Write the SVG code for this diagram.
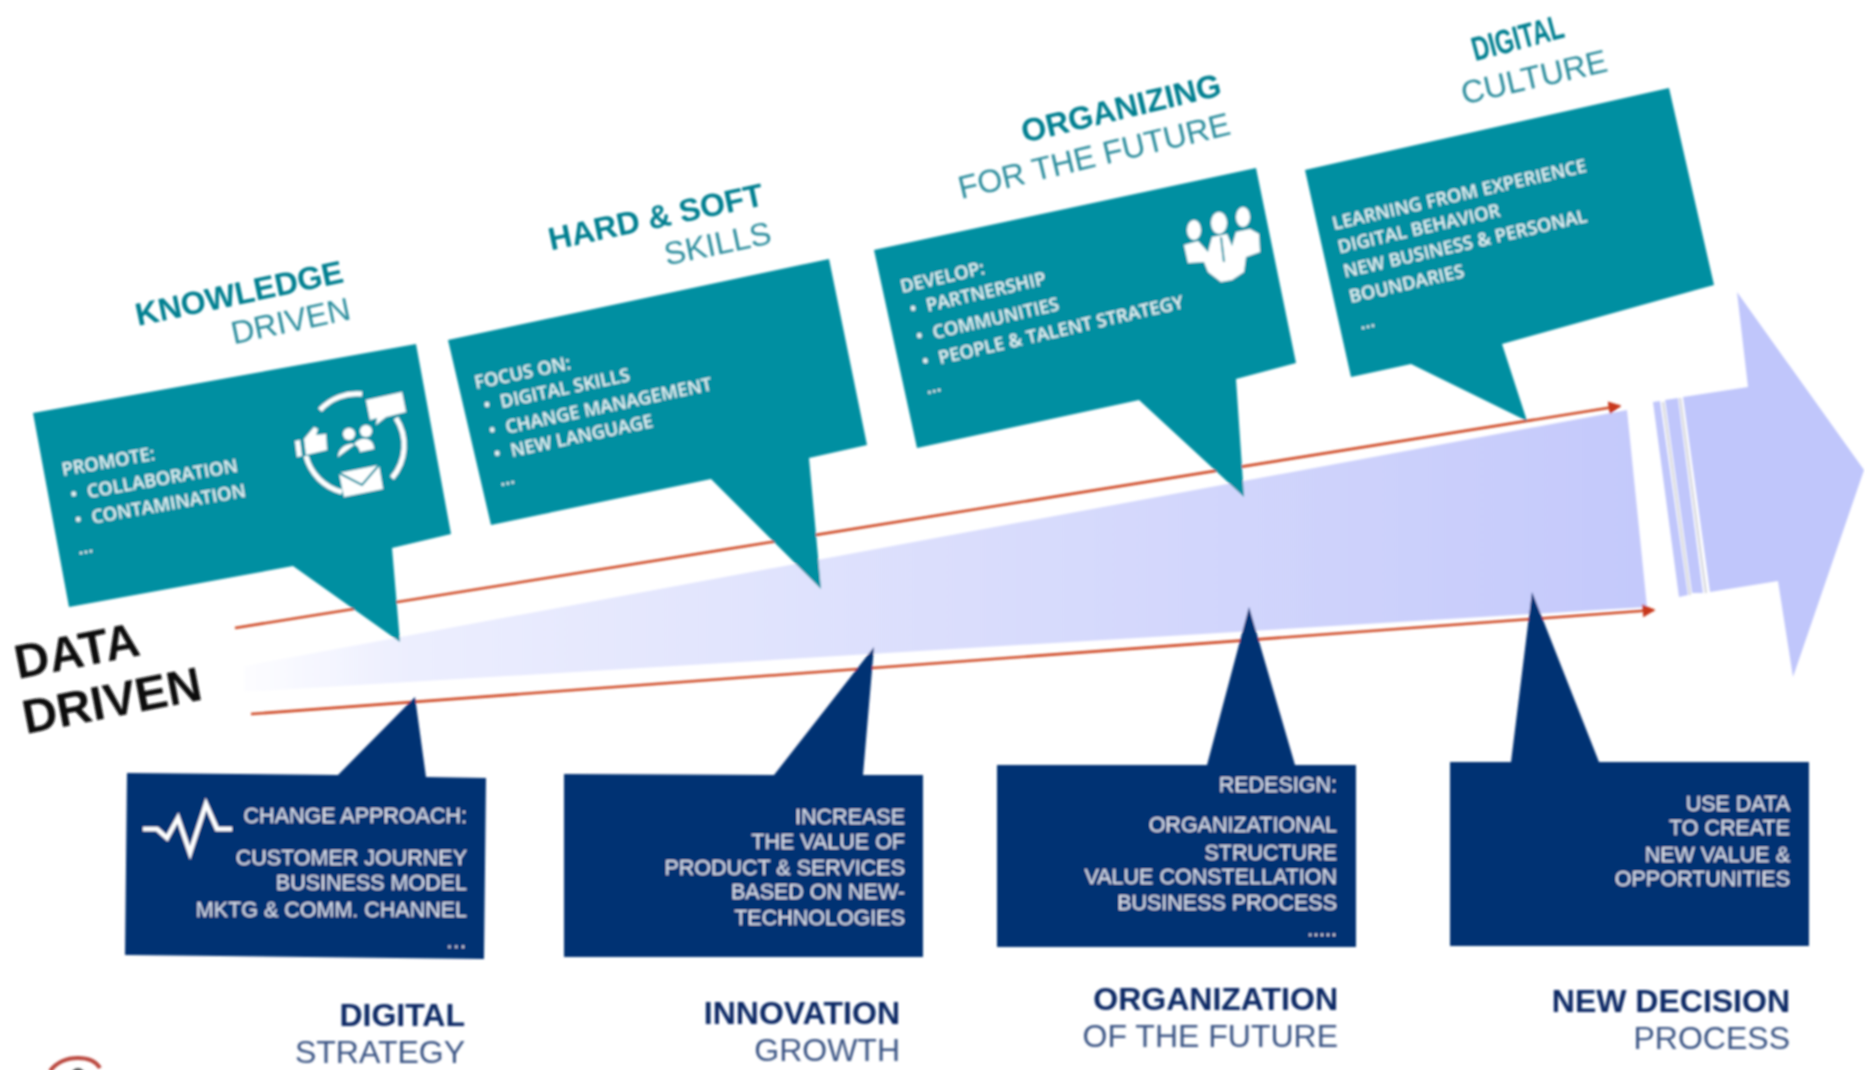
<svg xmlns="http://www.w3.org/2000/svg" width="1865" height="1070" viewBox="0 0 1865 1070">
<defs>
<linearGradient id="wedge" gradientUnits="userSpaceOnUse" x1="244" y1="0" x2="1640" y2="0"><stop offset="0" stop-color="#fdfdff"/><stop offset="0.12" stop-color="#eceefe"/><stop offset="1" stop-color="#c4c9fb"/></linearGradient>
<marker id="ah" markerWidth="5" markerHeight="5" refX="4.4" refY="2.5" orient="auto"><path d="M0 0L5 2.5L0 5Z" fill="#c8391d"/></marker>
<filter id="soft" x="-2%" y="-2%" width="104%" height="104%"><feGaussianBlur stdDeviation="0.8"/></filter>
</defs>
<style>
text{font-family:"Liberation Sans",Arial,sans-serif}
.teal{fill:#008fa1}.navy{fill:#003073}
.tb{font-weight:700;font-size:32px;fill:#007f90;text-anchor:end}
.tr{font-size:32px;fill:#2a8c9c;text-anchor:end}
.nb{font-weight:700;font-size:32px;fill:#0c2a66;text-anchor:end}
.nr{font-size:32px;fill:#3b5484;text-anchor:end}
.w{font-family:"Open Sans","Liberation Sans",sans-serif;font-size:18.3px;font-weight:600;fill:#e6f3f5}
.bt{font-size:21.5px;fill:#dfe4ee;text-anchor:end}
.dd{font-weight:700;font-size:48px;fill:#111}
.ic{fill:#fff}.il{fill:none;stroke:#fff}
.c{fill:none;stroke:#cf4a25;stroke-width:2.6;marker-end:url(#ah)}
.ar{fill:#c0c6fb}
</style>
<g filter="url(#soft)">
<g id="arrow-body">
<polygon points="244,666 1627,410 1647,607 244,692" fill="url(#wedge)"/>
<path d="M1663 402L1690 595M1680 398L1706 593" stroke="#d2d3dc" stroke-width="2" fill="none"/>
<polygon class="ar" points="1653,402 1660,401 1688,595 1679,597"/>
<polygon class="ar" points="1665,400 1678,398 1703,593 1692,593"/>
<polygon class="ar" points="1683,397 1748,387 1737,292 1864,470 1793,677 1778,581 1710,592"/>
</g>
<g id="connectors">
<line class="c" x1="235" y1="628" x2="1620" y2="406"/>
<line class="c" x1="251" y1="714" x2="1654" y2="610"/>
</g>
<g id="node-knowledge">
<polygon class="teal" points="33,413 416,344 451,534 392,548 400,642 293,566 69,607"/>
<text class="tb" transform="translate(345,282) rotate(-12)">KNOWLEDGE</text>
<text class="tr" transform="translate(352,319) rotate(-12)">DRIVEN</text>
<g transform="translate(63,476) rotate(-10)"><text class="w">PROMOTE:</text><text class="w" x="4" y="26">•</text><text class="w" x="21" y="26">COLLABORATION</text><text class="w" x="4" y="52">•</text><text class="w" x="21" y="52">CONTAMINATION</text><text class="w" x="2" y="80">…</text></g>
<g id="icon-collab">
<path class="il" stroke-width="5" d="M320 410A50 50 0 0 1 362 394M396 418A50 50 0 0 1 392 478M342 492A50 50 0 0 1 306 456"/>
<path class="ic" d="M366 400L402 392L406 412L386 417L376 425L377 418L370 420Z"/>
<path class="ic" d="M295 441L300 440L302 456L297 457ZM304 439L314 427L318 429L316 435L326 434L327 450L306 455Z"/>
<circle class="ic" cx="349" cy="434" r="6"/><circle class="ic" cx="366" cy="431" r="6"/><path class="ic" d="M338 457C338 444 358 438 360 452L374 449C374 436 358 436 354 445Z"/>
<polygon class="ic" points="339,473 379,465 383,489 344,497"/><path fill="none" stroke="#008fa1" stroke-width="2" d="M339 473L362 485L379 465"/>
</g>
</g>
<g id="node-skills">
<polygon class="teal" points="448,340 829,259 867,445 809,458 821,589 711,479 491,525"/>
<text class="tb" transform="translate(765,205) rotate(-12)">HARD &amp; SOFT</text>
<text class="tr" transform="translate(773,243) rotate(-12)">SKILLS</text>
<g transform="translate(476,389) rotate(-12)"><text class="w">FOCUS ON:</text><text class="w" x="4" y="24">•</text><text class="w" x="21" y="24">DIGITAL SKILLS</text><text class="w" x="4" y="50">•</text><text class="w" x="21" y="50">CHANGE MANAGEMENT</text><text class="w" x="4" y="74">•</text><text class="w" x="21" y="74">NEW LANGUAGE</text><text class="w" x="4" y="100">…</text></g>
</g>
<g id="node-organizing">
<polygon class="teal" points="874,250 1256,168 1296,363 1236,379 1244,497 1139,400 917,448"/>
<text class="tb" transform="translate(1223,95) rotate(-13.5)">ORGANIZING</text>
<text class="tr" transform="translate(1232,134) rotate(-13.5)">FOR THE FUTURE</text>
<g transform="translate(902,293) rotate(-13)"><text class="w">DEVELOP:</text><text class="w" x="4" y="24">•</text><text class="w" x="21" y="24">PARTNERSHIP</text><text class="w" x="4" y="52">•</text><text class="w" x="21" y="52">COMMUNITIES</text><text class="w" x="4" y="78">•</text><text class="w" x="21" y="78">PEOPLE &amp; TALENT STRATEGY</text><text class="w" x="2" y="104">…</text></g>
<g id="icon-people" class="ic">
<ellipse cx="1194" cy="230" rx="7" ry="10"/><ellipse cx="1219" cy="223" rx="8" ry="11"/><ellipse cx="1243" cy="217" rx="7" ry="10"/>
<path d="M1184 245L1198 241L1208 252L1212 237L1227 234L1232 246L1236 232L1250 229L1259 234L1260 252L1246 257L1244 272L1232 280L1221 282L1208 272L1204 262L1188 263Z"/>
<path d="M1221 237L1224 262" fill="none" stroke="#008fa1" stroke-width="2"/>
</g>
</g>
<g id="node-culture">
<polygon class="teal" points="1305,170 1669,88 1714,285 1502,344 1527,421 1411,364 1351,377"/>
<text class="tb" transform="translate(1566,37) rotate(-15)" textLength="94" lengthAdjust="spacingAndGlyphs" style="font-size:34px">DIGITAL</text>
<text class="tr" transform="translate(1609,71) rotate(-13)">CULTURE</text>
<g transform="translate(1334,230) rotate(-13)"><text class="w">LEARNING FROM EXPERIENCE</text><text class="w" x="0" y="24">DIGITAL BEHAVIOR</text><text class="w" x="0" y="49">NEW BUSINESS &amp; PERSONAL</text><text class="w" x="0" y="75">BOUNDARIES</text><text class="w" x="4" y="103">…</text></g>
</g>
<g id="node-strategy">
<polygon class="navy" points="127,773 338,775 415,697 426,777 486,778 484,959 125,955"/>
<polyline class="il" stroke-width="4.5" points="143,829 157,829 167,838 178,818 190,853 206,804 217,829 232,829"/>
<text class="bt" x="467" y="823">CHANGE APPROACH:</text><text class="bt" x="467" y="865">CUSTOMER JOURNEY</text><text class="bt" x="467" y="890">BUSINESS MODEL</text><text class="bt" x="467" y="917">MKTG &amp; COMM. CHANNEL</text><text class="bt" x="467" y="948">…</text>
<text class="nb" x="465" y="1026">DIGITAL</text><text class="nr" x="465" y="1063">STRATEGY</text>
</g>
<g id="node-innovation">
<polygon class="navy" points="564,774 774,775 874,647 863,775 923,775 923,957 564,957"/>
<text class="bt" x="905" y="824">INCREASE</text><text class="bt" x="905" y="849">THE VALUE OF</text><text class="bt" x="905" y="875">PRODUCT &amp; SERVICES</text><text class="bt" x="905" y="899">BASED ON NEW-</text><text class="bt" x="905" y="925">TECHNOLOGIES</text>
<text class="nb" x="900" y="1024">INNOVATION</text><text class="nr" x="900" y="1061">GROWTH</text>
</g>
<g id="node-organization">
<polygon class="navy" points="997,765 1207,765 1249,607 1295,765 1356,765 1356,947 997,947"/>
<text class="bt" x="1337" y="792">REDESIGN:</text><text class="bt" x="1337" y="832">ORGANIZATIONAL</text><text class="bt" x="1337" y="860">STRUCTURE</text><text class="bt" x="1337" y="884">VALUE CONSTELLATION</text><text class="bt" x="1337" y="910">BUSINESS PROCESS</text><text class="bt" x="1337" y="936">.....</text>
<text class="nb" x="1338" y="1010">ORGANIZATION</text><text class="nr" x="1338" y="1047">OF THE FUTURE</text>
</g>
<g id="node-decision">
<polygon class="navy" points="1450,762 1511,762 1532,592 1599,762 1809,762 1809,946 1450,946"/>
<text class="bt" x="1790" y="811">USE DATA</text><text class="bt" x="1790" y="835">TO CREATE</text><text class="bt" x="1790" y="862">NEW VALUE &amp;</text><text class="bt" x="1790" y="886">OPPORTUNITIES</text>
<text class="nb" x="1790" y="1012">NEW DECISION</text><text class="nr" x="1790" y="1049">PROCESS</text>
</g>
<text class="dd" transform="translate(18,679) rotate(-11)">DATA</text>
<text class="dd" transform="translate(26,734) rotate(-11)">DRIVEN</text>
<g id="logo"><path d="M50 1071Q60 1058 78 1058Q94 1058 100 1068" fill="none" stroke="#bb4a40" stroke-width="4"/><ellipse cx="78" cy="1076" rx="7" ry="8" fill="#555"/></g>
</g>
</svg>
